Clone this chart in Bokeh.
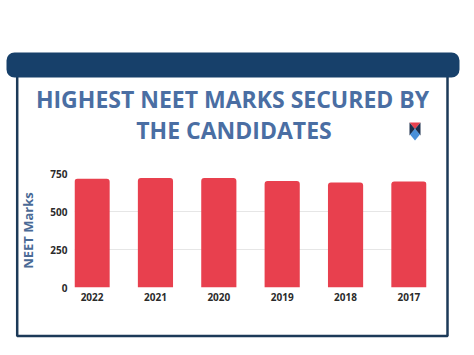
from bokeh.plotting import figure
from bokeh.models import ColumnDataSource, FactorRange, Range1d, FixedTicker
from bokeh.core.properties import value
from bokeh.embed import file_html
from bokeh.resources import INLINE

# ---- data ----
years = ["2022", "2021", "2020", "2019", "2018", "2017"]
marks = [715, 720, 720, 701, 691, 697]
y_ticks = [0, 250, 500, 750]
title_lines = ["HIGHEST NEET MARKS SECURED BY", "THE CANDIDATES"]
y_label = "NEET Marks"

NAVY = "#17406a"
BORDER = "#1c3a58"
TITLE_C = "#4a6ea3"
BAR_C = "#e8404e"
W, H = 474, 355

# ---------- decoration layer (pixel coordinates, y down) ----------
deco = figure(width=W, height=H, x_range=Range1d(0, W), y_range=Range1d(H, 0),
              x_axis_type=None, y_axis_type=None,
              output_backend="svg", toolbar_location=None,
              min_border=0)
deco.outline_line_color = None
deco.grid.visible = False
deco.background_fill_color = "white"
deco.border_fill_color = "white"

# panel frame
deco.quad(left=[16.7], right=[447], top=[70], bottom=[335.5],
          fill_alpha=0, line_color=BORDER, line_width=2.5)
# header bar
deco.quad(left=[6], right=[459], top=[52], bottom=[77],
          fill_color=NAVY, line_color=None, border_radius=8)
# title
deco.text(x=[232, 233.5], y=[98, 129], text=title_lines,
          text_align="center", text_baseline="middle",
          text_font=value("Open Sans"), text_font_style="bold",
          text_font_size="23px", text_color=TITLE_C)
# small shield logo
deco.patches(xs=[[409, 420, 414.5], [409, 414.5, 409], [420, 420, 414.5],
                 [414.5, 419.5, 414.5, 409.5]],
             ys=[[122, 122, 128.5], [122, 128.5, 135], [122, 135, 128.5],
                 [128.5, 134, 140, 134]],
             fill_color=["#e8404e", "#1b2f4d", "#1b2f4d", "#4a90d9"],
             line_color=None)

# ---------- chart layer ----------
src = ColumnDataSource(dict(year=years, marks=marks))
p = figure(width=W, height=H,
           x_range=FactorRange(factors=years, range_padding=-0.2225,
                               range_padding_units="absolute"),
           y_range=Range1d(0, 750),
           output_backend="svg", toolbar_location=None,
           min_border_left=74, min_border_right=48,
           min_border_top=173, min_border_bottom=68)
p.styles = {"position": "absolute", "top": "0px", "left": "0px"}
p.outline_line_color = None
p.background_fill_alpha = 0
p.border_fill_alpha = 0

p.vbar(x="year", top="marks", width=0.555, source=src,
       fill_color=BAR_C, line_color=None, border_radius=(3, 3, 0, 0))

p.xgrid.grid_line_color = None
p.ygrid.grid_line_color = "#e6e6e6"
p.ygrid.ticker = FixedTicker(ticks=y_ticks)
p.yaxis.ticker = FixedTicker(ticks=y_ticks)

for ax in (p.xaxis[0], p.yaxis[0]):
    ax.axis_line_color = None
    ax.major_tick_line_color = None
    ax.minor_tick_line_color = None
    ax.major_tick_out = 0
    ax.major_tick_in = 0
    ax.major_label_text_font = "Open Sans"
    ax.major_label_text_font_style = "bold"
    ax.major_label_text_font_size = "10px"
    ax.major_label_text_color = "#2b2b2b"

p.xaxis.major_label_standoff = 5
p.yaxis.major_label_standoff = 7
p.yaxis.axis_label = y_label
p.yaxis.axis_label_text_font = "Open Sans"
p.yaxis.axis_label_text_font_style = "bold"
p.yaxis.axis_label_text_font_size = "13px"
p.yaxis.axis_label_text_color = "#4a6a96"
p.yaxis.axis_label_standoff = 10

open("out.html", "w").write(file_html([deco, p], INLINE))
